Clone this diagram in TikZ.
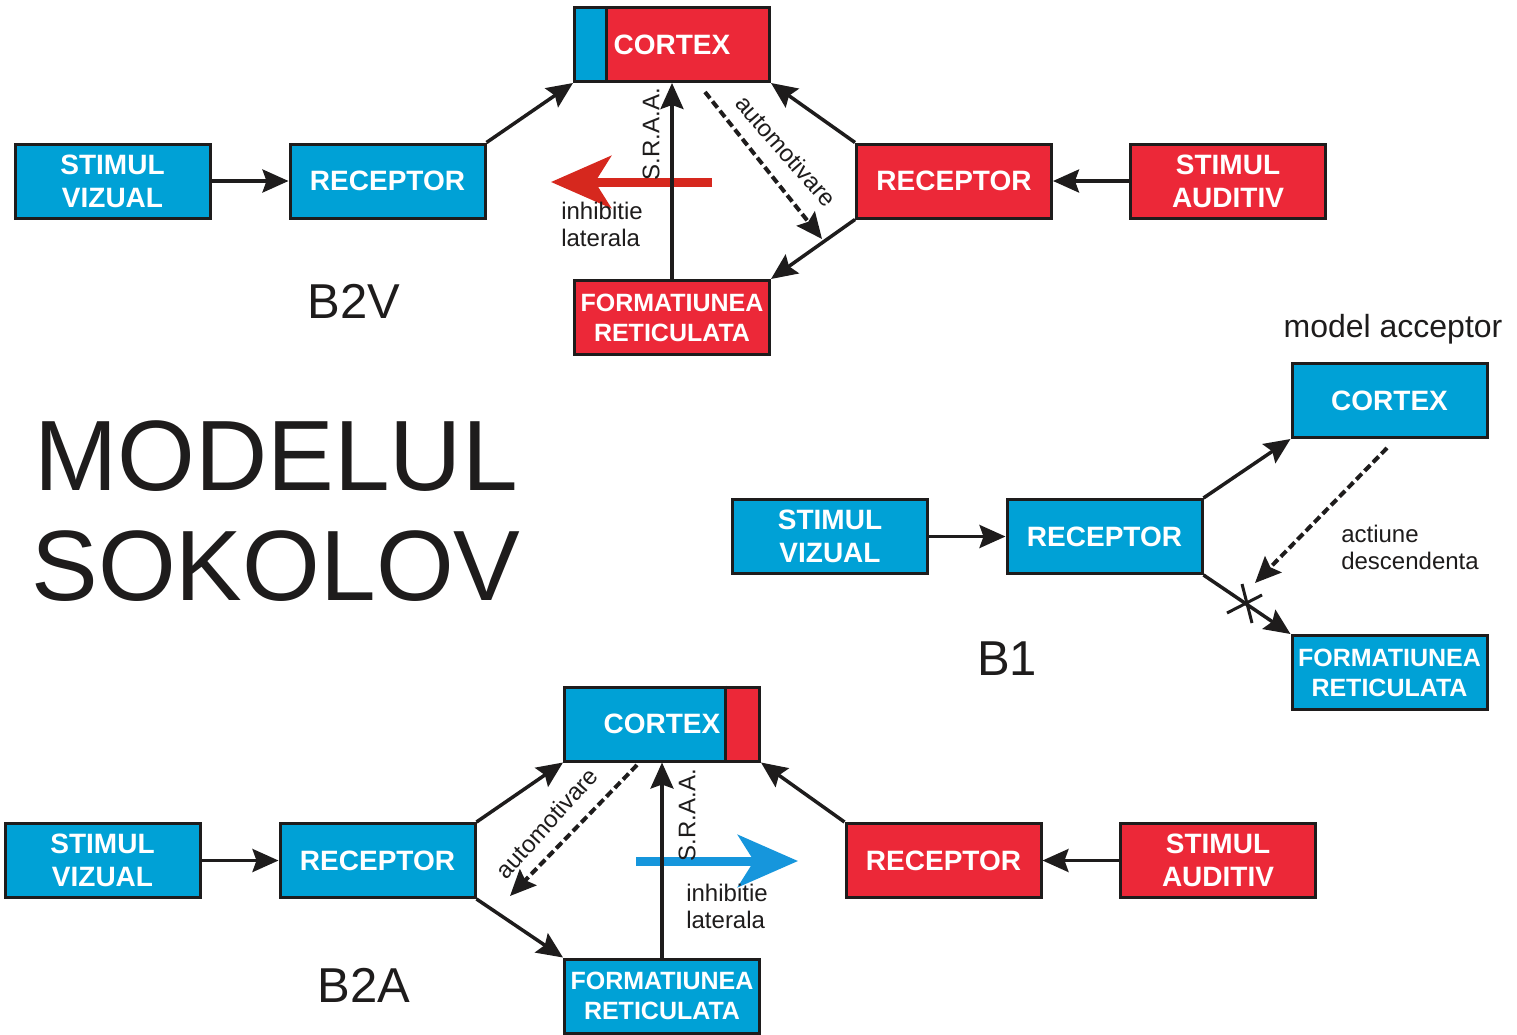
\documentclass[tikz,border=0pt]{standalone}
\usepackage{fontspec}
\setmainfont{Liberation Sans}
\usetikzlibrary{arrows.meta,calc}
\definecolor{boxblue}{RGB}{0,161,214}
\definecolor{boxred}{RGB}{236,40,56}
\definecolor{arrred}{RGB}{214,40,30}
\definecolor{arrblue}{RGB}{22,150,220}
\definecolor{ink}{RGB}{30,28,28}
\begin{document}
\begin{tikzpicture}[x=1pt,y=-1pt,
  box/.style={draw=ink, line width=3pt, minimum width=195pt, minimum height=74pt,
    inner sep=0pt, text=white, align=center, font=\fontsize{28}{33}\selectfont\bfseries},
  bluebox/.style={box, fill=boxblue},
  redbox/.style={box, fill=boxred},
  rfbox/.style={font=\fontsize{25}{30}\selectfont\bfseries},
  conn/.style={draw=ink, line width=3.5pt, -{Stealth[length=26pt,width=23pt,inset=4pt]}},
  dconn/.style={conn, line width=4pt, dash pattern=on 8pt off 4pt},
  lbl/.style={text=ink, inner sep=0pt, font=\fontsize{24}{27}\selectfont, align=left},
  tag/.style={text=ink, inner sep=0pt, font=\fontsize{49}{55}\selectfont, anchor=base},
  title/.style={text=ink, inner sep=0pt, font=\fontsize{100}{110}\selectfont, anchor=base},
  fat/.style={line width=9pt, -{Stealth[length=60pt,width=52pt,inset=16pt]}},
]
\useasboundingbox[fill=white] (0,0) rectangle (1517,1034);

% ---------- B2V: visual stimulus, auditory dominance ----------
\node[bluebox] (sv1) at (112.5,181) {STIMUL\\VIZUAL};
\node[bluebox] (r1) at (387.5,181) {RECEPTOR};
\node[redbox, path picture={\fill[boxblue] (path picture bounding box.north west)
  rectangle ([xshift=33pt]path picture bounding box.south west);}] (c1) at (672,44.5) {CORTEX};
\draw[ink, line width=3pt] ([xshift=33pt]c1.north west) -- ([xshift=33pt]c1.south west);
\node[redbox, rfbox] (f1) at (672,317.5) {FORMATIUNEA\\RETICULATA};
\node[redbox] (rr1) at (954,181) {RECEPTOR};
\node[redbox] (sa1) at (1228,181) {STIMUL\\AUDITIV};

\coordinate (i1s) at (712,182);
\coordinate (i1e) at (551,182);
\draw[fat, arrred] (i1s) -- (i1e);

\draw[conn] (sv1) -- (r1);
\draw[conn] (r1.north east) -- (c1.south west);
\draw[conn] (rr1.north west) -- (c1.south east);
\draw[conn] (rr1.south west) -- (f1.north east);
\draw[conn] (sa1) -- (rr1);
\draw[conn] (f1.north) -- (c1.south);
\coordinate (d1s) at (705,92);
\coordinate (d1e) at (822,239);
\draw[dconn] (d1s) -- (d1e);

\node[lbl, rotate=90] (sraa1) at (651,134) {S.R.A.A.};
\node[lbl, rotate=-49] (am1) at (786,151) {automotivare};
\node[lbl] (il1) at (602,224) {inhibitie\\laterala};
\node[tag] (b2v) at (354,318) {B2V};

% ---------- title ----------
\node[title] (t1) at (276,490) {MODELUL};
\node[title] (t2) at (276,600) {SOKOLOV};

% ---------- B1: acceptor model ----------
\node[font=\fontsize{32}{36}\selectfont, text=ink, inner sep=0pt] (ma) at (1393,329) {model acceptor};
\node[bluebox] (sv2) at (830,536.5) {STIMUL\\VIZUAL};
\node[bluebox] (r2) at (1104.5,536.5) {RECEPTOR};
\node[bluebox] (c2) at (1389.5,400.5) {CORTEX};
\node[bluebox, rfbox] (f2) at (1389.5,672.5) {FORMATIUNEA\\RETICULATA};
\draw[conn] (sv2) -- (r2);
\draw[conn] (r2.north east) -- (c2.south west);
\draw[conn] (r2.south east) -- (f2.north west);
\coordinate (d2s) at (1387,448);
\coordinate (d2e) at (1255,583);
\draw[dconn] (d2s) -- (d2e);
\coordinate (x1a) at (1227,613);
\coordinate (x1b) at (1262,595);
\coordinate (x2a) at (1242,584);
\coordinate (x2b) at (1252,623);
\draw[ink, line width=3pt] (x1a) -- (x1b) (x2a) -- (x2b);
\node[lbl] (ad) at (1410,547) {actiune\\descendenta};
\node[tag] (b1) at (1007,675) {B1};

% ---------- B2A: auditory stimulus, visual dominance ----------
\node[bluebox] (sv3) at (102.5,860.5) {STIMUL\\VIZUAL};
\node[bluebox] (r3) at (377.5,860.5) {RECEPTOR};
\node[bluebox, path picture={\fill[boxred] (path picture bounding box.north east)
  rectangle ([xshift=-36pt]path picture bounding box.south east);}] (c3) at (662,724) {CORTEX};
\draw[ink, line width=3pt] ([xshift=-36pt]c3.north east) -- ([xshift=-36pt]c3.south east);
\node[bluebox, rfbox] (f3) at (662,996) {FORMATIUNEA\\RETICULATA};
\node[redbox] (rr3) at (943.5,860.5) {RECEPTOR};
\node[redbox] (sa3) at (1218,860.5) {STIMUL\\AUDITIV};

\coordinate (i3s) at (636,861);
\coordinate (i3e) at (798,861);
\draw[fat, arrblue] (i3s) -- (i3e);

\draw[conn] (sv3) -- (r3);
\draw[conn] (r3.north east) -- (c3.south west);
\draw[conn] (r3.south east) -- (f3.north west);
\draw[conn] (rr3.north west) -- (c3.south east);
\draw[conn] (sa3) -- (rr3);
\draw[conn] (f3.north) -- (c3.south);
\coordinate (d3s) at (637,765);
\coordinate (d3e) at (510,896);
\draw[dconn] (d3s) -- (d3e);

\node[lbl, rotate=90] (sraa3) at (687,815) {S.R.A.A.};
\node[lbl, rotate=48] (am3) at (547,823) {automotivare};
\node[lbl] (il3) at (727,906) {inhibitie\\laterala};
\node[tag] (b2a) at (364,1002) {B2A};
\end{tikzpicture}
\end{document}
